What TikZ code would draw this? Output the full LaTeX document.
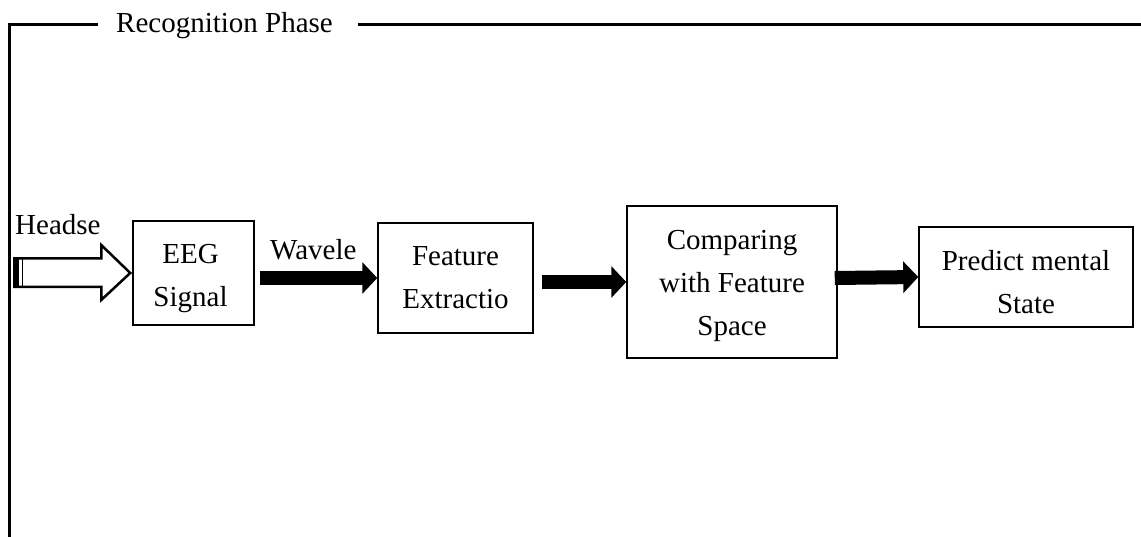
\documentclass[tikz,border=0pt]{standalone}
\usepackage{fontspec}
\setmainfont{Liberation Serif}
\usetikzlibrary{arrows.meta,calc}
\begin{document}
\begin{tikzpicture}[x=1pt,y=-1pt,
  box/.style={draw,line width=1.5pt,inner sep=0pt},
  boxtext/.style={align=center,inner sep=0pt,font=\fontsize{29}{43}\selectfont},
  lbl/.style={inner sep=0pt,font=\fontsize{29}{43}\selectfont},
  bigarrow/.style={line width=14pt,-{Triangle[length=15pt,width=31pt]}},
  frame/.style={line width=3pt}]
\useasboundingbox (0,0) rectangle (1141,537);
% frame
\node[lbl,anchor=base] (title) at (224.5,33) {Recognition Phase};
\draw[frame] (9,537) -- (9,25) -- (98,25);
\draw[frame] (358,25) -- (1141,25);
% boxes
\node[box,minimum width=121pt,minimum height=104pt] (eeg) at (193.5,273) {};
\node[boxtext] (eegT) at ($(eeg.center)+(-3,6)$) {EEG\\Signal};
\node[box,minimum width=155pt,minimum height=110pt] (feat) at (455.5,278) {};
\node[boxtext] (featT) at ($(feat.center)+(0,0)$) {Feature\\Extractio};
\node[box,minimum width=210pt,minimum height=152pt] (comp) at (732,282) {};
\node[boxtext] (compT) at ($(comp.center)+(0,3.5)$) {Comparing\\with Feature\\Space};
\node[box,minimum width=214pt,minimum height=100pt] (pred) at (1026,277) {};
\node[boxtext] (predT) at ($(pred.center)+(0,5)$) {Predict mental\\State};
% labels
\node[lbl,anchor=base west] (hs) at (15,235) {Headse};
\node[lbl,anchor=base west] (wv) at (270,260) {Wavele};
% hollow input arrow
\coordinate (hstip) at ($(eeg.west)+(-2,0)$);
\draw[line width=2.5pt,line join=miter]
  ($(hstip)+(-116,-14.5)$) -- ($(hstip)+(-29,-14.5)$) -- ($(hstip)+(-29,-28)$) -- (hstip)
  -- ($(hstip)+(-29,27)$) -- ($(hstip)+(-29,14)$) -- ($(hstip)+(-116,14)$) -- cycle;
\fill ($(hstip)+(-117,-15.5)$) rectangle ($(hstip)+(-111,15)$);
\draw[line width=1.5pt] ($(hstip)+(-108,-14.5)$) -- ($(hstip)+(-108,14)$);
% connectors
\draw[bigarrow] ($(eeg.east)+(5,5)$) -- (feat.west);
\draw[bigarrow] ($(feat.east)+(8,4)$) -- (comp.west);
\draw[bigarrow] ($(comp.east)+(-3,-4)$) -- (pred.west);
\end{tikzpicture}
\end{document}
